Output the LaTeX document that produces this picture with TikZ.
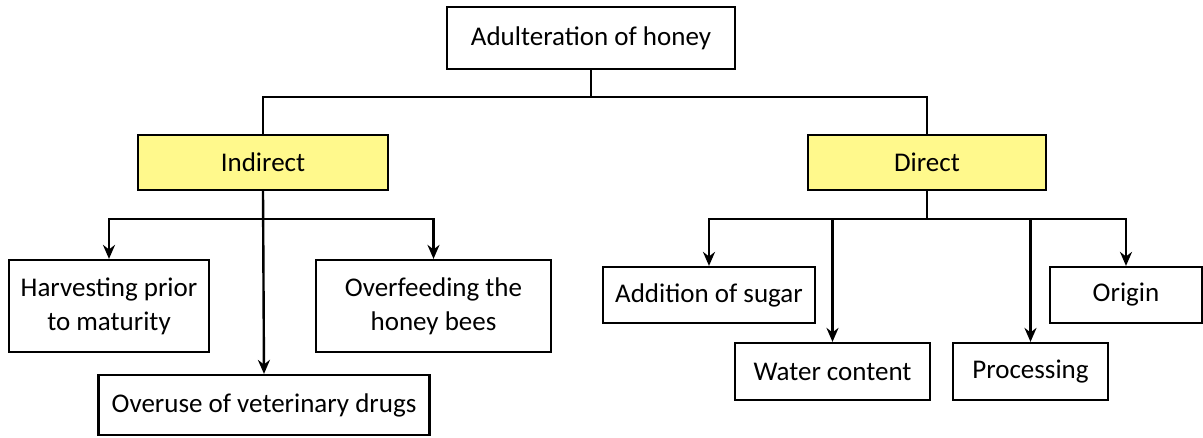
\documentclass[tikz,border=0pt]{standalone}
\usepackage{fontspec}
\setmainfont{Carlito}
\usetikzlibrary{arrows.meta}
\begin{document}
\begin{tikzpicture}[x=1pt,y=-1pt,
  box/.style={draw=black,line width=2.2pt,fill=white,inner sep=0pt,align=center,
    font=\fontsize{27}{34}\selectfont},
  ybox/.style={box,fill=yellow!45!white},
  conn/.style={line width=2.4pt},
  arr/.style={conn,-{Stealth[length=14pt,width=12pt]}}]
\useasboundingbox (0,0) rectangle (1203,437);
\node[box,minimum width=288pt,minimum height=62pt] (top) at (591,38) {Adulteration of honey};
\node[ybox,minimum width=250pt,minimum height=55pt] (ind) at (263,162.5) {Indirect};
\node[ybox,minimum width=238pt,minimum height=55pt] (dir) at (927,162.5) {Direct};
\node[box,minimum width=200pt,minimum height=92pt] (harv) at (109,306) {Harvesting prior\\to maturity};
\node[box,minimum width=235pt,minimum height=92pt] (over) at (433.5,306) {Overfeeding the\\honey bees};
\node[box,minimum width=331pt,minimum height=60pt] (vet) at (264,405) {Overuse of veterinary drugs};
\node[box,minimum width=212pt,minimum height=56pt] (add) at (709,295) {Addition of sugar};
\node[box,minimum width=195pt,minimum height=57pt] (water) at (832.5,371.5) {Water content};
\node[box,minimum width=155pt,minimum height=57pt] (proc) at (1030.5,371.5) {Processing};
\node[box,minimum width=152pt,minimum height=56pt] (orig) at (1126,295) {Origin};
\coordinate (j1) at (591,97);
\coordinate (j2) at (263,219);
\coordinate (j3) at (927,219);
\draw[conn] (top.south) -- (j1) -| (ind.north);
\draw[conn] (j1) -| (dir.north);
\draw[conn] (ind.south) -- (j2);
\draw[arr] (j2) -| (harv.north);
\draw[arr] (j2) -| (over.north);
\draw[arr] (ind.south) -- (vet.north);
\draw[conn] (dir.south) -- (j3);
\draw[arr] (j3) -| (add.north);
\draw[arr] (j3) -| (orig.north);
\draw[arr] (water.north |- j3) -- (water.north);
\draw[arr] (proc.north |- j3) -- (proc.north);
\end{tikzpicture}
\end{document}
